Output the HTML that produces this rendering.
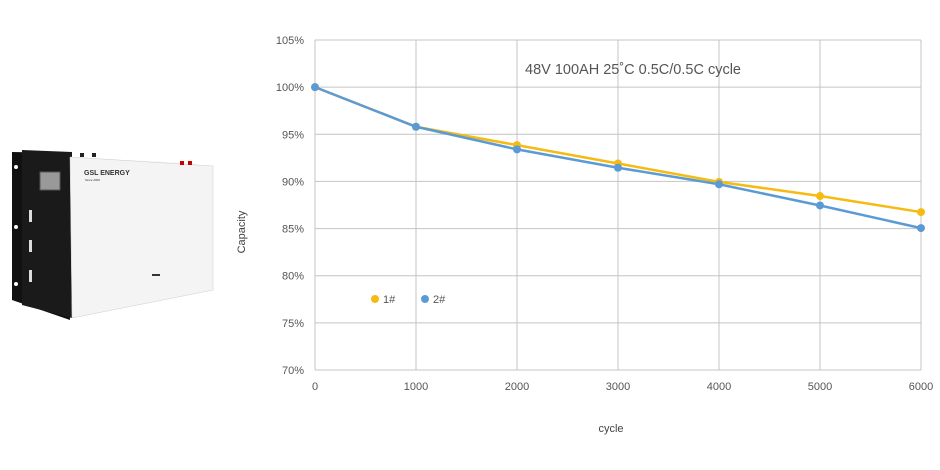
<!DOCTYPE html>
<html><head><meta charset="utf-8">
<style>
body{margin:0;width:940px;height:470px;background:#fff;overflow:hidden;font-family:"Liberation Sans",sans-serif;}
</style></head>
<body>
<svg width="940" height="470" style="position:absolute;left:0;top:0">
  <g>
    <polygon points="12,152 70,153 70,320 12,300" fill="#111"/>
    <polygon points="22,150 72,152 72,318 22,305" fill="#1a1a1a"/>
    <circle cx="16" cy="167" r="2" fill="#fff"/><circle cx="16" cy="227" r="2" fill="#fff"/><circle cx="16" cy="284" r="2" fill="#fff"/>
    <rect x="29" y="210" width="3" height="12" fill="#ddd"/><rect x="29" y="240" width="3" height="12" fill="#ddd"/><rect x="29" y="270" width="3" height="12" fill="#ddd"/>
    <polygon points="70,157 182,163 213,166 213,290 72,318" fill="#f2f2f2"/>
    <polygon points="70,157 213,166 213,290 72,318" fill="#f4f4f4" stroke="#ccc" stroke-width="0.5"/>
    <rect x="40" y="172" width="20" height="18" fill="#999" stroke="#555"/>
    <rect x="180" y="161" width="4" height="4" fill="#c00"/><rect x="188" y="161" width="4" height="4" fill="#c00"/>
    <rect x="80" y="153" width="4" height="4" fill="#222"/><rect x="92" y="153" width="4" height="4" fill="#222"/>
    <text x="84" y="175" font-size="7" font-weight="bold" fill="#333">GSL ENERGY</text>
    <text x="85" y="181" font-size="3" fill="#333">Since 2006</text>
    <rect x="152" y="274" width="8" height="2" fill="#333"/>
  </g>
  <g id="grid"></g>
  <g id="axes"></g>
  <g id="series"></g>
  <text x="525" y="74" font-size="14.5" fill="#555">48V 100AH 25˚C 0.5C/0.5C cycle</text>
  <text x="245" y="232" font-size="11" fill="#444" transform="rotate(-90 245 232)" text-anchor="middle">Capacity</text>
  <text x="611" y="432" font-size="11" fill="#444" text-anchor="middle">cycle</text>
  <g>
    <g><circle cx="375" cy="299" r="4" fill="#f5bb12"/><text x="383" y="303" font-size="11" fill="#555">1#</text></g>
    <g><circle cx="425" cy="299" r="4" fill="#5b9bd5"/><text x="433" y="303" font-size="11" fill="#555">2#</text></g>
  </g>
</svg>
<script>
const cycles=[0,1000,2000,3000,4000,5000,6000];
const series1=[100,95.8,93.85,91.9,89.95,88.45,86.75];
const series2=[100,95.8,93.4,91.45,89.7,87.45,85.05];
const yTicks=[70,75,80,85,90,95,100,105];
const xTicks=[0,1000,2000,3000,4000,5000,6000];
const NS="http://www.w3.org/2000/svg";
const X0=315,X1=921,Y0=370,Y1=40;
const xs=v=>X0+(v-0)/6000*(X1-X0);
const ys=v=>Y0-(v-70)/35*(Y0-Y1);
function mk(t,a,p){const e=document.createElementNS(NS,t);for(const k in a)e.setAttribute(k,a[k]);p.appendChild(e);return e;}
const grid=document.getElementById('grid'),axes=document.getElementById('axes'),ser=document.getElementById('series');
yTicks.forEach(v=>{
  const l=mk('line',{x1:X0,x2:X1,y1:ys(v),y2:ys(v),stroke:'#c4c4c4','stroke-width':1},grid);
  
  
  const t=mk('text',{x:X0-11,y:ys(v)+4,'font-size':11,fill:'#555','text-anchor':'end'},axes);
  t.textContent=v+'%';
  
  
});
xTicks.forEach(v=>{
  const l=mk('line',{x1:xs(v),x2:xs(v),y1:Y1,y2:Y0,stroke:'#c4c4c4','stroke-width':1},grid);
  
  
  const t=mk('text',{x:xs(v),y:Y0+20,'font-size':11,fill:'#555','text-anchor':'middle'},axes);
  t.textContent=v;
  
  
});
[[series1,'#f5bb12','series-1'],[series2,'#5b9bd5','series-2']].forEach(([d,c,n])=>{
  const p=mk('polyline',{points:d.map((v,i)=>xs(cycles[i])+','+ys(v)).join(' '),fill:'none',stroke:c,'stroke-width':2.5},ser);
  
  
  d.forEach((v,i)=>{
    const m=mk('circle',{cx:xs(cycles[i]),cy:ys(v),r:4,fill:c},ser);
    
    
  });
});
</script>
</body></html>
